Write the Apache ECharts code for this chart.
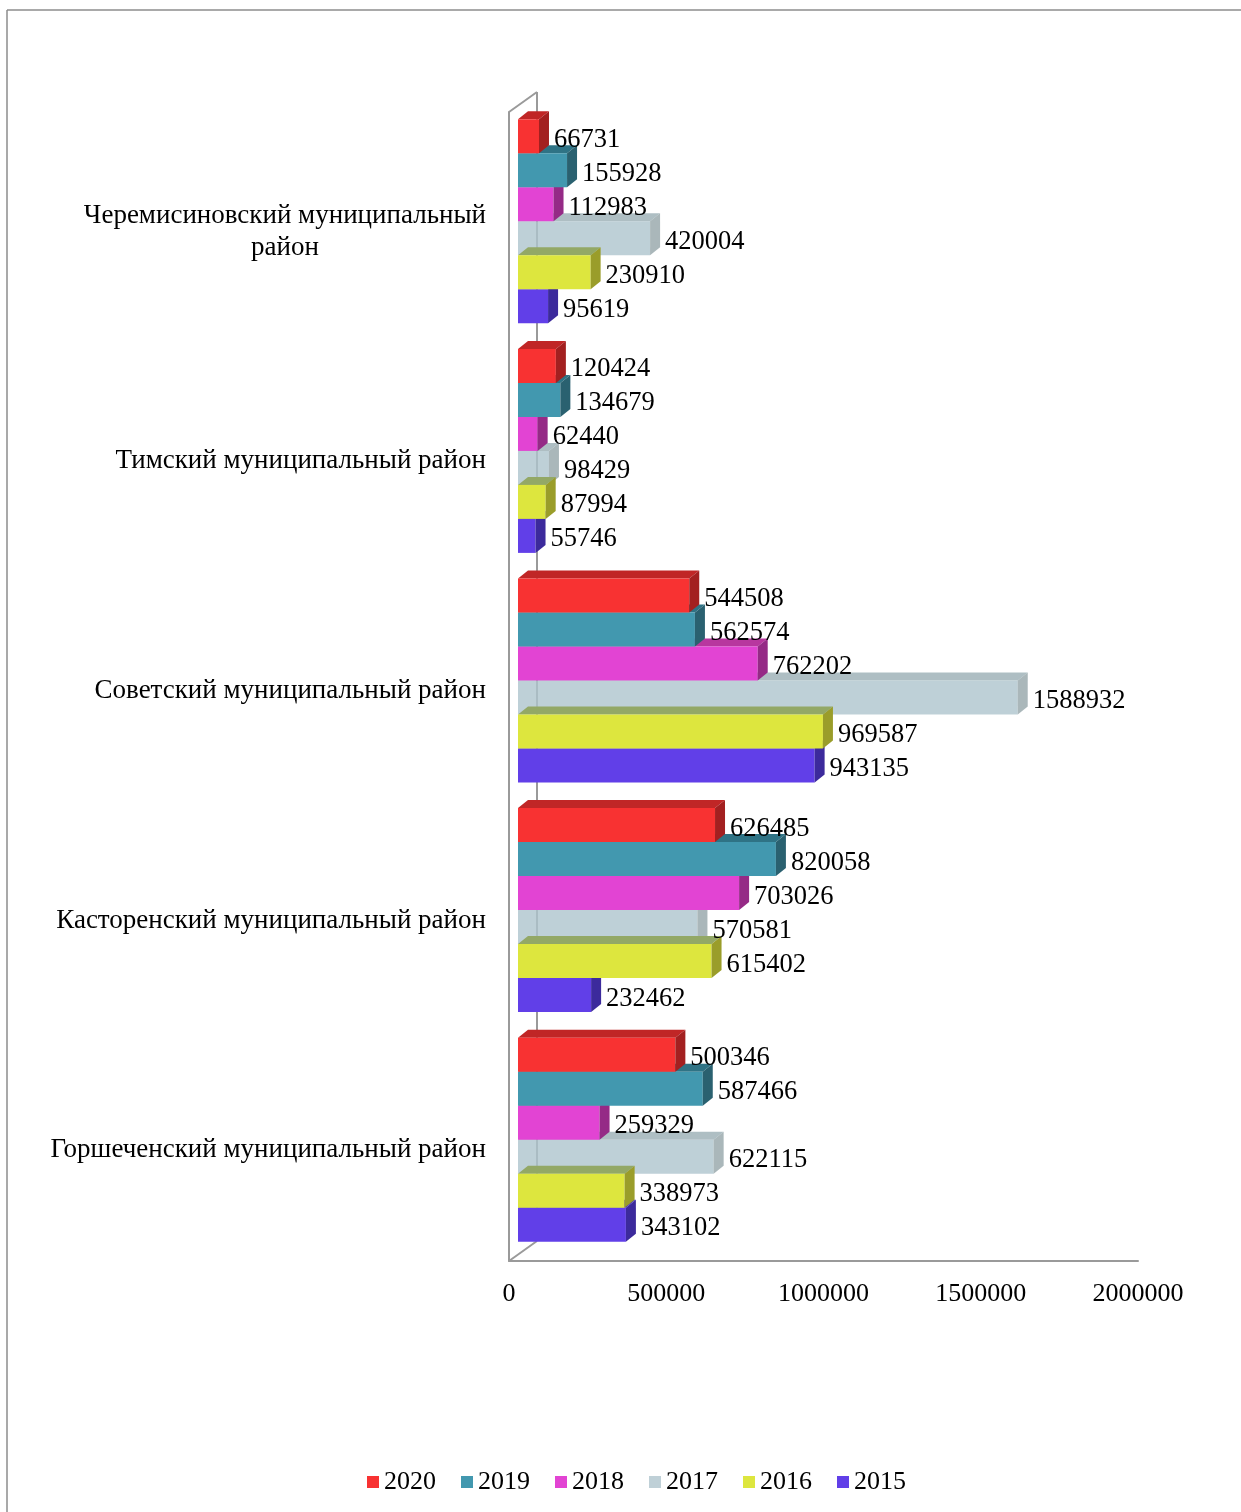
<!DOCTYPE html>
<html>
<head>
<meta charset="utf-8">
<script src="https://cdn.jsdelivr.net/npm/echarts@6/dist/echarts.min.js"></script>
<style>
  html, body { margin: 0; padding: 0; background: #fff; }
  #chart { width: 1241px; height: 1512px; }
</style>
</head>
<body>
<div id="chart"></div>
<script>
// ---- Data ----
const categories = [
  'Черемисиновский муниципальный район',
  'Тимский муниципальный район',
  'Советский муниципальный район',
  'Касторенский муниципальный район',
  'Горшеченский муниципальный район'
];
const years = ['2020', '2019', '2018', '2017', '2016', '2015'];
const v2020 = [66731, 120424, 544508, 626485, 500346];
const v2019 = [155928, 134679, 562574, 820058, 587466];
const v2018 = [112983, 62440, 762202, 703026, 259329];
const v2017 = [420004, 98429, 1588932, 570581, 622115];
const v2016 = [230910, 87994, 969587, 615402, 338973];
const v2015 = [95619, 55746, 943135, 232462, 343102];
const xMin = 0, xMax = 2000000, xInterval = 500000;

// ---- Styles ----
const FONT = '"Liberation Serif", "Times New Roman", serif';
const seriesValues = [v2020, v2019, v2018, v2017, v2016, v2015];
const frontColors = ['#F83232', '#4298AF', '#E244D3', '#AEC4CD', '#DDE63E', '#613FE8'];
const legendColors = ['#F83232', '#4298AF', '#E244D3', '#BFD0D7', '#DDE63E', '#613FE8'];
const topColors   = ['#C02626', '#2F7385', '#B8379F', '#9AAEB4', '#93A866', '#4A33C0'];
const sideColors  = ['#A32020', '#2A6170', '#952A86', '#95A5A9', '#9A9D2A', '#3C2A9C'];
const opacities   = [1, 1, 1, 0.8, 1, 1];
// drawing order (higher = drawn later); grey drawn before yellow
const drawOrder   = [6, 5, 4, 2, 3, 1];

const GAP = 0.1115;       // category gap fraction
const DX = 10, DY = -8;   // bar depth
const AX_L = 509, AX_T = 112, AX_B = 1261, PLOT_W = 629;
const WALL_DX = 28, WALL_DY = -20;
const AXIS_COLOR = '#9a9a9a';

function makeRender(k) {
  return function (params, api) {
    const v = api.value(0), ci = api.value(1);
    const c = api.coord([0, ci]);
    const e = api.coord([v, ci]);
    const band = api.size([0, 1])[1];
    const barH = band * (1 - GAP) / 6;
    const y0 = c[1] - barH * 3 + k * barH;
    const y1 = y0 + barH;
    const x0 = c[0], x1 = e[0];
    const o = drawOrder[k] * 3;
    const op = opacities[k];
    return {
      type: 'group',
      children: [
        { type: 'polygon', z2: o,
          shape: { points: [[x0, y0], [x1, y0], [x1 + DX, y0 + DY], [x0 + DX, y0 + DY]] },
          style: { fill: topColors[k], opacity: op } },
        { type: 'rect', z2: o + 1,
          shape: { x: x0, y: y0, width: x1 - x0, height: barH },
          style: { fill: frontColors[k], opacity: op } },
        { type: 'polygon', z2: o + 2,
          shape: { points: [[x1, y0], [x1 + DX, y0 + DY], [x1 + DX, y1 + DY], [x1, y1]] },
          style: { fill: sideColors[k], opacity: op } },
        { type: 'text', z2: 100,
          style: { x: x1 + DX + 5, y: (y0 + y1) / 2 + 3.5, text: String(v),
            fill: '#000', font: '26.5px ' + FONT, textAlign: 'left', textVerticalAlign: 'middle' } }
      ]
    };
  };
}

const series = years.map((yr, k) => ({
  name: yr,
  type: 'custom',
  xAxisIndex: 0, yAxisIndex: 0,
  renderItem: makeRender(k),
  itemStyle: { color: legendColors[k] },
  encode: { x: 0, y: 1 },
  data: seriesValues[k].map((v, i) => [v, i])
}));

function wrapLabel(name) {
  if (name.length > 33) {
    const idx = name.lastIndexOf(' ');
    return '{c|' + name.slice(0, idx) + '}\n{c|' + name.slice(idx + 1) + '}';
  }
  return '{c|' + name + '}';
}

const option = {
  animation: false,
  backgroundColor: '#fff',
  grid: [
    { left: 518, top: 106.5, width: PLOT_W, height: 1148 },
    { left: AX_L, top: AX_T, width: PLOT_W, height: AX_B - AX_T }
  ],
  xAxis: [
    { gridIndex: 0, type: 'value', min: xMin, max: xMax, interval: xInterval, show: false },
    { gridIndex: 1, type: 'value', min: xMin, max: xMax, interval: xInterval,
      axisLine: { show: true, lineStyle: { color: AXIS_COLOR, width: 2 } },
      axisTick: { show: false }, splitLine: { show: false },
      axisLabel: { color: '#000', fontSize: 26, fontFamily: FONT, margin: 20,
        formatter: v => String(v) } }
  ],
  yAxis: [
    { gridIndex: 0, type: 'category', data: categories, inverse: true,
      axisLine: { show: false }, axisTick: { show: false }, splitLine: { show: false },
      axisLabel: { margin: 32, align: 'right', padding: [21, 0, 0, 0],
        formatter: wrapLabel,
        rich: { c: { align: 'center', fontSize: 27, fontFamily: FONT, color: '#000', lineHeight: 32 } } } },
    { gridIndex: 1, type: 'value', min: 0, max: 1,
      axisLine: { show: true, lineStyle: { color: AXIS_COLOR, width: 2 } },
      axisTick: { show: false }, splitLine: { show: false }, axisLabel: { show: false } }
  ],
  legend: {
    data: years, left: 362, top: 1464, icon: 'rect', itemWidth: 12, itemHeight: 12, itemGap: 25,
    textStyle: { fontSize: 26, fontFamily: FONT, color: '#000' }
  },
  graphic: [
    { type: 'line', z: 1, shape: { x1: AX_L, y1: AX_T, x2: AX_L + WALL_DX, y2: AX_T + WALL_DY },
      style: { stroke: AXIS_COLOR, lineWidth: 2 } },
    { type: 'line', z: 1, shape: { x1: AX_L + WALL_DX, y1: AX_T + WALL_DY, x2: AX_L + WALL_DX, y2: AX_B + WALL_DY },
      style: { stroke: AXIS_COLOR, lineWidth: 2 } },
    { type: 'line', z: 1, shape: { x1: AX_L, y1: AX_B, x2: AX_L + WALL_DX, y2: AX_B + WALL_DY },
      style: { stroke: AXIS_COLOR, lineWidth: 2 } },
    { type: 'line', z: 1, shape: { x1: 7, y1: 10, x2: 1241, y2: 10 },
      style: { stroke: '#8c8c8c', lineWidth: 1.5 } },
    { type: 'line', z: 1, shape: { x1: 7, y1: 10, x2: 7, y2: 1512 },
      style: { stroke: '#8c8c8c', lineWidth: 1.5 } }
  ],
  series: series
};

const chart = echarts.init(document.getElementById('chart'), null, { renderer: 'canvas' });
chart.setOption(option);
</script>
</body>
</html>
